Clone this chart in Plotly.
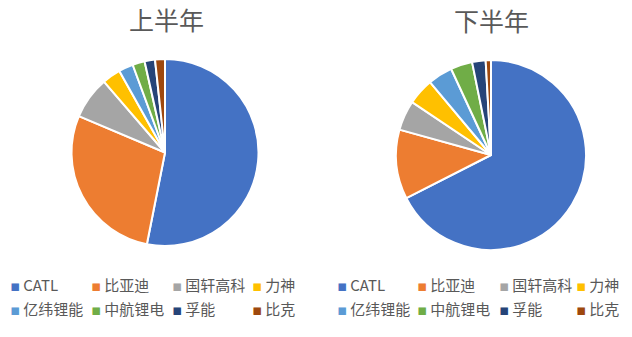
import plotly.graph_objects as go

# Battery makers and their market share (%) in each half of the year
makers = ["CATL", "比亚迪", "国轩高科", "力神", "亿纬锂能", "中航锂电", "孚能", "比克"]
share_h1 = [53.0, 28.2, 7.3, 3.2, 2.5, 2.1, 1.8, 1.7]
share_h2 = [67.5, 11.8, 5.1, 4.5, 4.2, 3.7, 2.3, 0.9]
panel_titles = ["上半年", "下半年"]

colors = ["#4472C4", "#ED7D31", "#A5A5A5", "#FFC000",
          "#5B9BD5", "#70AD47", "#264478", "#9E480E"]

W, H = 632, 337
TEXT = "#595959"
FONT = "Noto Sans CJK SC"


def px_x(v):
    return v / W


def px_y(v):
    return 1 - v / H


# pixel layout of each panel: pie box, title centre, legend grid
panels = [
    dict(box=(71, 259, 59, 246), title=(166, 19),
         cols=[12, 93, 174, 254], rows=[284, 308]),
    dict(box=(396, 586, 60, 250), title=(491, 20),
         cols=[339, 419, 501, 578], rows=[284, 308]),
]

fig = go.Figure()
annotations = []

for vals, title, p in zip([share_h1, share_h2], panel_titles, panels):
    x0, x1, y0, y1 = p["box"]
    fig.add_trace(go.Pie(
        labels=makers,
        values=vals,
        name=title,
        sort=False,
        direction="clockwise",
        rotation=0,
        textinfo="none",
        hoverinfo="label+percent",
        showlegend=False,
        marker=dict(colors=colors, line=dict(color="white", width=2)),
        domain=dict(x=[px_x(x0), px_x(x1)], y=[px_y(y1), px_y(y0)]),
    ))

    tx, ty = p["title"]
    annotations.append(dict(
        text=title, x=px_x(tx), y=px_y(ty), xref="paper", yref="paper",
        xanchor="center", yanchor="middle", showarrow=False,
        font=dict(family=FONT, size=25, color=TEXT),
    ))

    # legend laid out as a 4 x 2 grid of small swatches and labels
    for i, (label, col) in enumerate(zip(makers, colors)):
        cx = p["cols"][i % 4]
        cy = p["rows"][i // 4]
        annotations.append(dict(
            text=(f'<span style="font-family:DejaVu Sans;color:{col}">▪</span>'
                  f'\u2009{label}'),
            x=px_x(cx - 4), y=px_y(cy), xref="paper", yref="paper",
            xanchor="left", yanchor="middle", showarrow=False,
            font=dict(family=FONT, size=15, color=TEXT),
        ))

fig.update_layout(
    width=W, height=H,
    margin=dict(l=0, r=0, t=0, b=0),
    paper_bgcolor="white",
    plot_bgcolor="white",
    annotations=annotations,
)

fig.write_html("out.html")
